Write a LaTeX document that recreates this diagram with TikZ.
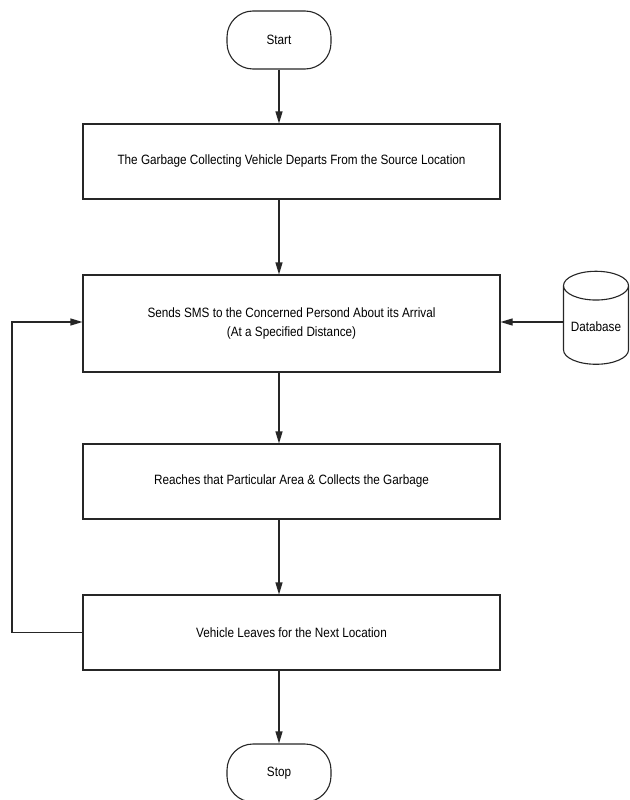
\documentclass[tikz,border=0pt]{standalone}
\usepackage{fontspec}
\usepackage{graphicx}
\setmainfont{Liberation Sans}
\usetikzlibrary{arrows.meta,shapes.geometric}
% narrow, tall lettering
\newcommand{\nrw}[1]{\scalebox{0.87}[1]{#1}}
\tikzset{
  labelfont/.style={font=\fontsize{13.5}{18.5}\selectfont},
  stepbox/.style={draw=black!85, line width=1.1pt, fill=white,
    minimum width=417pt, inner sep=2pt, align=center, labelfont},
  terminal/.style={draw=black!85, line width=1.1pt, fill=white,
    minimum width=104pt, minimum height=58pt, rounded corners=26pt,
    labelfont},
  store/.style={draw=black!85, line width=1.1pt, fill=white, cylinder,
    shape border rotate=90, aspect=0.55, minimum width=65pt,
    minimum height=93pt, inner sep=1pt, labelfont},
  flow/.style={draw=black!85, line width=1.1pt,
    -{Triangle[width=7pt,length=12pt]}}
}
\begin{document}
\begin{tikzpicture}[x=1pt,y=-1pt]
  \useasboundingbox (0,0) rectangle (629,800);
  \clip (0,0) rectangle (629,800);

  \node[terminal] (start) at (279,40) {\nrw{Start}};
  \node[stepbox, minimum height=75pt] (depart) at (291.5,161.5)
    {\nrw{The Garbage Collecting Vehicle Departs From the Source Location}};
  \node[stepbox, minimum height=97pt] (sms) at (291.5,323.5)
    {\nrw{Sends SMS to the Concerned Persond About its Arrival}\\\nrw{(At a Specified Distance)}};
  \node[stepbox, minimum height=75pt] (reach) at (291.5,481.5)
    {\nrw{Reaches that Particular Area \& Collects the Garbage}};
  \node[stepbox, minimum height=75pt] (leave) at (291.5,632.5)
    {\nrw{Vehicle Leaves for the Next Location}};
  \node[terminal] (stop) at (279,773) {\nrw{Stop}};
  \node[store] (db) at (596,327) {\nrw{Database}};

  \coordinate (loopb) at (12,632.5);
  \coordinate (loopt) at (12,322);

  \draw[flow] (start.south) -- (start.south |- depart.north);
  \draw[flow] (depart.south -| start.south) -- (start.south |- sms.north);
  \draw[flow] (sms.south -| start.south) -- (start.south |- reach.north);
  \draw[flow] (reach.south -| start.south) -- (start.south |- leave.north);
  \draw[flow] (leave.south -| start.south) -- (stop.north);
  \draw[flow] (db.west |- loopt) -- (sms.east |- loopt);
  \draw[flow] (leave.west) -- (loopb) -- (loopt) -- (sms.west |- loopt);
\end{tikzpicture}
\end{document}
